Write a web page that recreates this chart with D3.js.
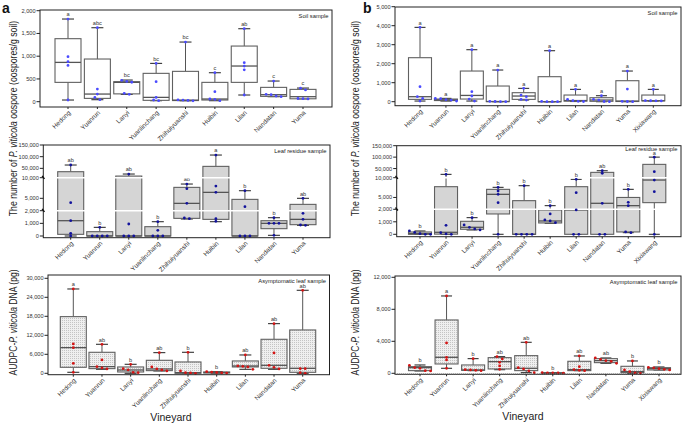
<!DOCTYPE html>
<html><head><meta charset="utf-8">
<script src="https://cdn.jsdelivr.net/npm/d3@7"></script>
<style>html,body{margin:0;padding:0;background:#fff;}svg{display:block;font-family:"Liberation Sans",Arial,sans-serif;}</style>
</head><body>
<svg id="c" width="685" height="425"></svg>
<script>
// ---------- DATA ----------
const catsA = ["Hedong","Yuanrun","Lanyi","Yuanlinchang","Zhihuiyuanshi","Huibin","Lilan","Nandatan","Yuma"];
const catsB = ["Hedong","Yuanrun","Lanyi","Yuanlinchang","Zhihuiyuanshi","Huibin","Lilan","Nandatan","Yuma","Xixiawang"];

// box stats: [min, q1, median, q3, max]
const aSoilBox = [[37,425,864,1385,1817],[44,73,168,938,1626],[161,172,425,440,476],[22,30,95,623,842],[20,25,35,667,1311],[22,37,59,425,637],[147,425,784,1223,1604],[110,117,154,315,454],[62,64,110,271,300]];
const aSoilPts = [[1817,989,879,798,37],[1626,278,168,95,44],[470,445,428,183,161],[842,440,95,37,22],[1311,40,35,28,20],[637,220,59,51,22],[1604,857,784,700,147],[454,161,154,125,110],[298,258,70,66,62]];
const aSoilLet = ["a","abc","bc","bc","bc","c","ab","c","c"];

const aLeafBox = [[0,132,1210,35700,64286],[0,0,0,342,684],[0,0,0,17000,25700],[0,0,0,737,1131],[1342,1395,3778,7657,8465],[1131,1316,6444,58500,107000],[0,0,0,4747,6848],[53,579,1000,1210,1447],[842,895,1316,3535,5000]];
const aLeafPts = [[64286,3940,1210,210,0],[684,0,0,0,0],[25700,947,0,0,0],[1131,447,0,0,0],[8465,7333,3778,1421,1368],[107000,7980,6444,1368,1158],[6848,2970,0,0,0],[1447,1000,1000,1000,53],[5000,1790,1316,868,842]];
const aLeafLet = ["ab","b","ab","b","ab","a","b","b","ab"];

const aAsymBox = [[316,1895,8105,17895,26630],[1263,1474,2105,6632,9158],[0,421,1053,2000,2842],[737,842,1368,4105,6526],[0,0,210,3579,6632],[50,100,250,420,526],[1263,2000,2316,3895,5789],[1263,1579,2526,10737,15684],[0,316,1579,13684,26210]];
const aAsymPts = [[26630,9263,8105,3158,316],[9158,4210,2105,1684,1368],[2842,1474,1053,316,210],[6526,2000,1368,1053,737],[6632,737,210,105,0],[526,400,250,150,80],[5789,2316,2210,2000,1263],[15684,6421,2526,1895,1368],[26210,1474,1474,210,0]];
const aAsymLet = ["a","ab","b","ab","b","b","ab","ab","ab"];

const bSoilBox = [[35,123,263,2316,3912],[35,60,100,140,175],[35,140,330,1614,2737],[0,5,10,825,1667],[88,123,298,474,702],[0,0,0,1316,2684],[10,30,60,351,649],[0,20,88,210,316],[0,10,35,1105,1614],[40,45,50,351,649]];
const bSoilPts = [[3912,789,263,175,35],[175,158,105,88,35],[2737,526,300,140,35],[1667,20,10,5,0],[702,351,263,123,88],[2684,20,0,0,0],[649,123,53,20,10],[316,123,88,10,0],[1614,667,20,10,0],[649,60,50,45,40]];
const bSoilLet = ["a","a","a","a","a","a","a","a","a","a"];

const bLeafBox = [[0,0,53,187,267],[0,13,160,7726,24583],[347,400,560,1040,1333],[0,1627,5790,7053,7558],[0,0,0,4189,7979],[880,907,1067,1947,2926],[0,0,1947,7726,9579],[0,0,3516,33333,40625],[133,187,2926,5000,7053],[0,3684,9410,68333,100000]];
const bLeafPts = [[267,150,50,0,0],[24583,720,133,27,0],[1333,747,560,427,347],[7558,6632,5790,3684,0],[7979,0,0,0,0],[2926,1627,1147,1067,933],[9579,6211,1947,0,0],[40625,29000,3516,0,0],[7053,3768,2926,187,133],[100000,36250,9410,6463,0]];
const bLeafLet = ["b","b","b","b","b","b","b","ab","b","a"];

const bAsymBox = [[292,333,708,833,1042],[625,1167,2000,6667,9667],[333,375,417,1042,1833],[450,542,1458,1958,2083],[83,333,625,2208,3875],[30,40,50,60,80],[333,333,458,1500,2167],[1250,1333,1583,1833,1917],[0,83,208,875,1542],[417,417,583,708,792]];
const bAsymPts = [[1000,708,625,333,292],[9667,3792,2000,1667,625],[1833,458,417,375,333],[2083,1792,1375,917,500],[3875,708,542,292,83],[80,60,50,40,30],[2167,833,458,375,333],[1917,1750,1583,1500,1250],[1542,417,208,42,0],[750,667,583,500,417]];
const bAsymLet = ["b","a","b","ab","ab","b","ab","ab","b","b"];

const aSoilTicks = [0,500,1000,1500,2000];
const leafTicks = [0,1000,2000,5000,10000,50000,100000,150000];
const leafBreaks = [2000,10000];
const leafDomain = [0,2000,10000,150000];
const aAsymTicks = [0,6000,12000,18000,24000,30000];
const bSoilTicks = [0,1000,2000,3000,4000,5000];
const bAsymTicks = [0,4000,8000,12000];

// ---------- DRAW ----------
const svg = d3.select("#c");
const defs = svg.append("defs");
const pat = defs.append("pattern").attr("id","dots").attr("width",2).attr("height",2).attr("patternUnits","userSpaceOnUse");
pat.append("rect").attr("width",2).attr("height",2).attr("fill","#efefef");
pat.append("rect").attr("width",1).attr("height",1).attr("fill","#c4c4c4");

const fmt = d3.format(",");
const styles = {
  soil: {fill:"#ffffff", pt:"#4a4aff", label:"Soil sample"},
  leaf: {fill:"#d5d5d5", pt:"#12129c", label:"Leaf residue sample"},
  asym: {fill:"url(#dots)", pt:"#d41414", label:"Asymptomatic leaf sample"}
};

function panel(o){
  const g = svg.append("g");
  const x = d3.scalePoint().domain(o.cats).range([o.c0, o.c1]);
  const y = o.y;
  const st = styles[o.kind];
  const bw = o.bw, cw = o.cw;

  o.cats.forEach((c,i)=>{
    const b = o.box[i], cx = x(c);
    const gg = g.append("g");
    gg.append("line").attr("x1",cx).attr("x2",cx).attr("y1",y(b[3])).attr("y2",y(b[4])).attr("stroke","#555").attr("stroke-width",1);
    gg.append("line").attr("x1",cx).attr("x2",cx).attr("y1",y(b[1])).attr("y2",y(b[0])).attr("stroke","#555").attr("stroke-width",1);
    gg.append("line").attr("x1",cx-cw/2).attr("x2",cx+cw/2).attr("y1",y(b[4])).attr("y2",y(b[4])).attr("stroke","#333").attr("stroke-width",1.1);
    gg.append("line").attr("x1",cx-cw/2).attr("x2",cx+cw/2).attr("y1",y(b[0])).attr("y2",y(b[0])).attr("stroke","#333").attr("stroke-width",1.1);
    gg.append("rect").attr("x",cx-bw/2).attr("width",bw).attr("y",y(b[3])).attr("height",Math.max(0.6,y(b[1])-y(b[3])))
      .attr("fill",st.fill).attr("stroke","#606060").attr("stroke-width",1.1);
    gg.append("line").attr("x1",cx-bw/2).attr("x2",cx+bw/2).attr("y1",y(b[2])).attr("y2",y(b[2])).attr("stroke","#555").attr("stroke-width",1.3);
    g.append("text").attr("x",cx).attr("y",y(b[4])-2.6).attr("text-anchor","middle").attr("font-size",5.6).attr("fill","#333").text(o.letters[i]);
  });

  if (o.breaks){
    o.breaks.forEach(v=>{
      g.append("line").attr("x1",o.left+0.6).attr("x2",o.right-0.6).attr("y1",y(v)).attr("y2",y(v)).attr("stroke","#fff").attr("stroke-width",1.6);
    });
  }

  o.cats.forEach((c,i)=>{
    const cx = x(c);
    const arr = o.pts[i].map(v=>({v, py:y(v)})).sort((a,b)=>a.py-b.py);
    const clusters = [];
    arr.forEach(p=>{
      const last = clusters[clusters.length-1];
      if (last && p.py - last[last.length-1].py < 2.6) last.push(p); else clusters.push([p]);
    });
    clusters.forEach(cl=>{
      cl.forEach((p,k)=>{
        g.append("circle").attr("cx",cx+(k-(cl.length-1)/2)*o.sp).attr("cy",p.py).attr("r",1.4).attr("fill",st.pt);
      });
    });
  });

  g.append("rect").attr("x",o.left).attr("y",o.top).attr("width",o.right-o.left).attr("height",o.bottom-o.top)
    .attr("fill","none").attr("stroke","#222").attr("stroke-width",1);
  if (o.zeroDots){
    g.append("line").attr("x1",o.left).attr("x2",o.right).attr("y1",y(0)+0.6).attr("y2",y(0)+0.6).attr("stroke","#777").attr("stroke-width",0.8).attr("stroke-dasharray","1,1");
  }

  o.ticks.forEach(t=>{
    g.append("line").attr("x1",o.left-3.5).attr("x2",o.left).attr("y1",y(t)).attr("y2",y(t)).attr("stroke","#222").attr("stroke-width",1);
    g.append("text").attr("x",o.left-4.5).attr("y",y(t)).attr("dy","0.35em").attr("text-anchor","end").attr("font-size",5.6).attr("fill","#333").text(fmt(t));
  });
  if (o.breaks){
    o.breaks.forEach(v=>{
      g.append("line").attr("x1",o.left-1.2).attr("x2",o.left+1.2).attr("y1",y(v)-1.8).attr("y2",y(v)+1.2).attr("stroke","#111").attr("stroke-width",1.4);
    });
  }

  o.cats.forEach(c=>{
    const cx = x(c);
    g.append("line").attr("x1",cx).attr("x2",cx).attr("y1",o.bottom).attr("y2",o.bottom+2).attr("stroke","#222").attr("stroke-width",1);
    g.append("text").attr("transform",`translate(${cx+1.5},${o.bottom+4.5}) rotate(-45)`).attr("dy","0.35em")
      .attr("text-anchor","end").attr("font-size",6.5).attr("fill","#333").text(c);
  });

  g.append("text").attr("x",o.right-3.5).attr("y",o.top+(o.lblDy||7.5)).attr("text-anchor","end").attr("font-size",5.8).attr("fill","#222").text(st.label);
}

const linY = (d, r)=> d3.scaleLinear().domain(d).range(r);

panel({kind:"soil", cats:catsA, box:aSoilBox, pts:aSoilPts, letters:aSoilLet, ticks:aSoilTicks,
  y:linY([0,2000],[101.7,10.7]), left:40, right:332, top:10, bottom:107, c0:68, c1:303, bw:26, cw:12, sp:5});
panel({kind:"leaf", cats:catsA, box:aLeafBox, pts:aLeafPts, letters:aLeafLet, ticks:leafTicks, breaks:leafBreaks,
  y:linY(leafDomain,[236,210.7,177.7,145]), left:43.3, right:330, top:145, bottom:237.7, c0:70.7, c1:303, bw:26, cw:12, sp:5});
panel({kind:"asym", cats:catsA, box:aAsymBox, pts:aAsymPts, letters:aAsymLet, ticks:aAsymTicks,
  y:linY([0,30000],[373.3,278.3]), left:48, right:329.5, top:275, bottom:374.7, c0:73.3, c1:302.7, bw:26, cw:12, sp:5});
panel({kind:"soil", cats:catsB, box:bSoilBox, pts:bSoilPts, letters:bSoilLet, ticks:bSoilTicks,
  y:linY([0,5000],[101.7,6.7]), left:395, right:681, top:7, bottom:105.7, c0:420, c1:653.3, bw:23, cw:11, sp:5.3});
panel({kind:"leaf", cats:catsB, box:bLeafBox, pts:bLeafPts, letters:bLeafLet, ticks:leafTicks, breaks:leafBreaks, lblDy:5.6,
  y:linY(leafDomain,[234.3,209.3,177.7,145.7]), left:396.7, right:681, top:145.7, bottom:236.7, c0:420, c1:654.3, bw:23, cw:11, sp:5.3});
panel({kind:"asym", cats:catsB, box:bAsymBox, pts:bAsymPts, letters:bAsymLet, ticks:bAsymTicks, zeroDots:true,
  y:linY([0,12000],[373.3,277.3]), left:395, right:681, top:276, bottom:374.3, c0:420, c1:659, bw:23, cw:11, sp:5.3});

function yTitle(xp, yc, parts, sx){
  const t = svg.append("text").attr("transform",`translate(${xp},${yc}) rotate(-90) scale(${sx},1)`)
    .attr("text-anchor","middle").attr("font-size",11).attr("fill","#222");
  parts.forEach(p=>t.append("tspan").attr("font-style",p[1]?"italic":"normal").text(p[0]));
}
const oosTitle = [["The number of ",false],["P. viticola",true],[" oospore (oospores/g soil)",false]];
const dnaTitle = [["AUDPC-",false],["P. viticola",true],[" DNA (pg)",false]];
yTitle(16.5,118.5,oosTitle,0.79);
yTitle(358.5,118.5,oosTitle,0.79);
yTitle(16.5,322.5,dnaTitle,0.78);
yTitle(358.5,322.5,dnaTitle,0.78);

svg.append("text").attr("x",171).attr("y",421).attr("text-anchor","middle").attr("font-size",10.5).attr("fill","#222").text("Vineyard");
svg.append("text").attr("x",523).attr("y",420).attr("text-anchor","middle").attr("font-size",10.5).attr("fill","#222").text("Vineyard");
svg.append("text").attr("x",2).attr("y",13).attr("font-size",14).attr("font-weight","bold").attr("fill","#111").text("a");
svg.append("text").attr("x",363).attr("y",13).attr("font-size",14).attr("font-weight","bold").attr("fill","#111").text("b");
</script>
</body></html>
